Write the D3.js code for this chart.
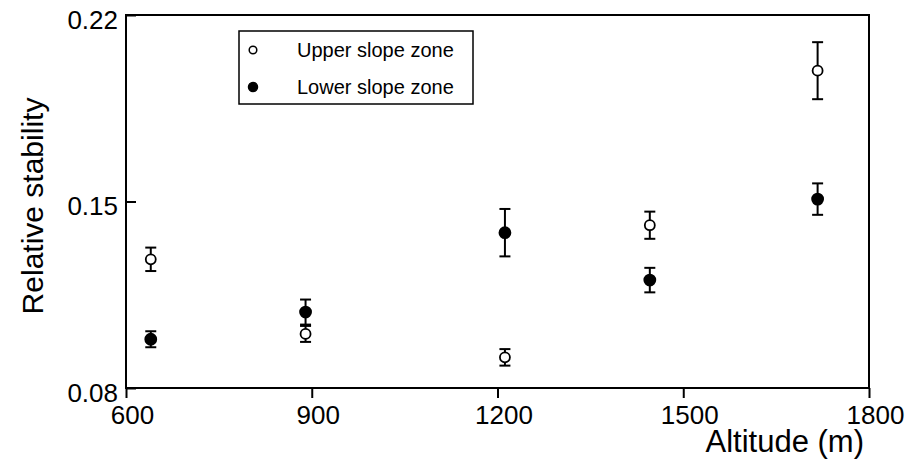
<!DOCTYPE html>
<html>
<head>
<meta charset="utf-8">
<script src="https://cdn.jsdelivr.net/npm/d3@7"></script>
<style>
  body { margin: 0; background: #fff; }
  text { font-family: "Liberation Sans", Arial, sans-serif; fill: #000; }
</style>
</head>
<body>
<div class="plot"></div>
<script>
// Data
const altitudes = [640, 890, 1212, 1446, 1717];
const upperSlope = [0.1283, 0.1003, 0.0915, 0.1411, 0.1991];
const upperErr = [0.0044, 0.0030, 0.0031, 0.0051, 0.0107];
const lowerSlope = [0.0983, 0.1085, 0.1383, 0.1205, 0.1509];
const lowerErr = [0.0030, 0.0047, 0.0089, 0.0046, 0.0059];
const xTicks = [600, 900, 1200, 1500, 1800];
const yTicks = [0.08, 0.15, 0.22];
const seriesNames = ["Upper slope zone", "Lower slope zone"];

const margin = {top: 15, right: 42, bottom: 83, left: 126};
const W = 911, H = 471;
const w = W - margin.left - margin.right;
const h = H - margin.top - margin.bottom;

const svg = d3.select(".plot")
    .append("svg")
        .attr("width", W)
        .attr("height", H)
    .append("g")
        .attr("transform", "translate(" + margin.left + "," + margin.top + ")");

const x = d3.scaleLinear().domain([600, 1800]).range([0, w]);
const y = d3.scaleLinear().domain([0.08, 0.22]).range([h, 0]);

// frame
svg.append("rect")
    .attr("width", w)
    .attr("height", h)
    .attr("fill", "none")
    .attr("stroke", "#000")
    .attr("stroke-width", 2);

// x axis, ticks outward
const xAxis = svg.append("g")
    .attr("transform", "translate(0," + h + ")")
    .call(d3.axisBottom(x).tickValues(xTicks).tickSize(10).tickPadding(8).tickFormat(d3.format("d")));
xAxis.select(".domain").remove();
xAxis.selectAll("line").attr("stroke-width", 2);
xAxis.selectAll("text")
    .attr("dx", 6)
    .style("font-size", "26px")
    .style("font-family", "'Liberation Sans', Arial, sans-serif");

// y axis, ticks inward
const yAxis = svg.append("g")
    .call(d3.axisLeft(y).tickValues(yTicks).tickSizeInner(-10).tickSizeOuter(0).tickPadding(8).tickFormat(d3.format(".2f")));
yAxis.select(".domain").remove();
yAxis.selectAll("line").attr("stroke-width", 2);
yAxis.selectAll("text")
    .attr("dy", "0.5em")
    .style("font-size", "26px")
    .style("font-family", "'Liberation Sans', Arial, sans-serif");

// axis titles
svg.append("text")
    .attr("x", w - 5)
    .attr("y", h + 64)
    .attr("text-anchor", "end")
    .style("font-size", "31px")
    .text("Altitude (m)");

svg.append("text")
    .attr("transform", "rotate(-90)")
    .attr("x", -(206 - margin.top))
    .attr("y", 43 - margin.left)
    .attr("text-anchor", "middle")
    .style("font-size", "30px")
    .text("Relative stability");

// points
const upperData = altitudes.map((a, i) => ({x: a, v: upperSlope[i], e: upperErr[i]}));
const lowerData = altitudes.map((a, i) => ({x: a, v: lowerSlope[i], e: lowerErr[i]}));

function drawSeries(data, filled) {
    const g = svg.append("g");
    const bars = g.selectAll(".err")
        .data(data)
        .enter()
        .append("g")
            .attr("stroke", "#000")
            .attr("stroke-width", 2);
    bars.append("line")
        .attr("x1", d => x(d.x)).attr("x2", d => x(d.x))
        .attr("y1", d => y(d.v + d.e)).attr("y2", d => y(d.v - d.e));
    bars.append("line")
        .attr("x1", d => x(d.x) - 5.5).attr("x2", d => x(d.x) + 5.5)
        .attr("y1", d => y(d.v + d.e)).attr("y2", d => y(d.v + d.e));
    bars.append("line")
        .attr("x1", d => x(d.x) - 5.5).attr("x2", d => x(d.x) + 5.5)
        .attr("y1", d => y(d.v - d.e)).attr("y2", d => y(d.v - d.e));
    g.selectAll("circle")
        .data(data)
        .enter()
        .append("circle")
            .attr("cx", d => x(d.x))
            .attr("cy", d => y(d.v))
            .attr("r", filled ? 5.5 : 5)
            .attr("fill", filled ? "#000" : "#fff")
            .attr("stroke", "#000")
            .attr("stroke-width", 1.8);
}
drawSeries(upperData, false);
drawSeries(lowerData, true);

// legend
const legend = svg.append("g")
    .attr("transform", "translate(" + (239 - margin.left) + "," + (31 - margin.top) + ")");
legend.append("rect")
    .attr("width", 234)
    .attr("height", 73)
    .attr("fill", "#fff")
    .attr("stroke", "#000")
    .attr("stroke-width", 1.5);
legend.selectAll("circle")
    .data(seriesNames)
    .enter()
    .append("circle")
        .attr("cx", 14)
        .attr("cy", (d, i) => 19 + i * 37)
        .attr("r", (d, i) => i ? 4.5 : 3.8)
        .attr("fill", (d, i) => i ? "#000" : "#fff")
        .attr("stroke", "#000")
        .attr("stroke-width", 1.5);
legend.selectAll("text")
    .data(seriesNames)
    .enter()
    .append("text")
        .attr("x", 58)
        .attr("y", (d, i) => 26 + i * 37)
        .style("font-size", "20px")
        .text(d => d);
</script>
</body>
</html>
